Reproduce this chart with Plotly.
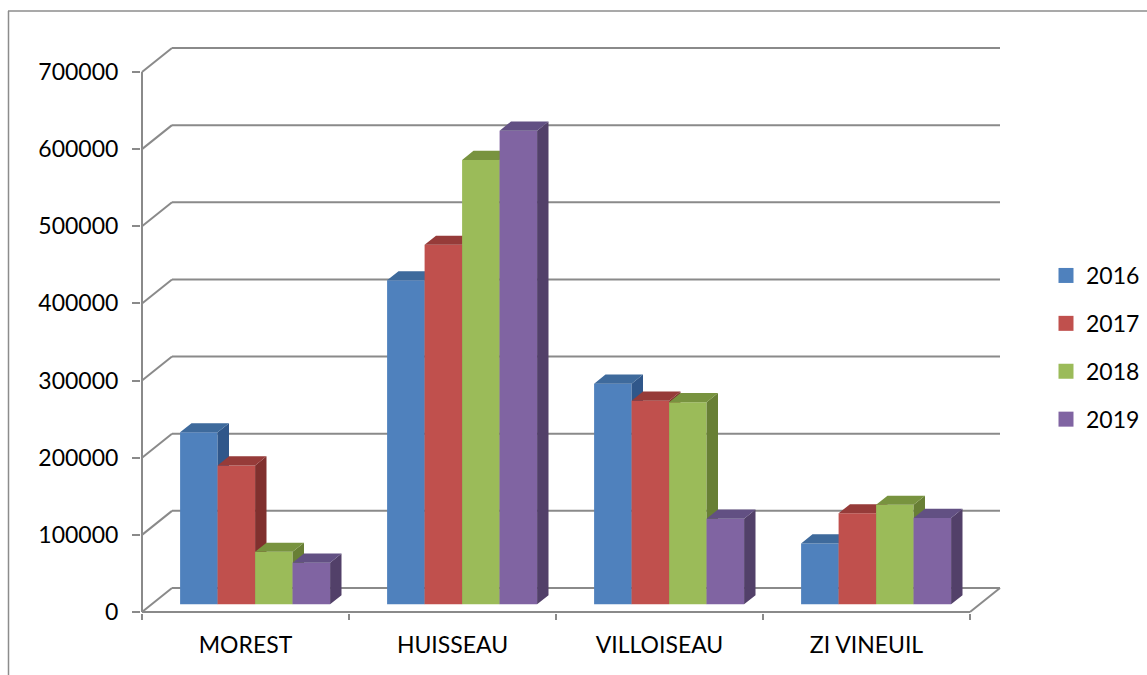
import plotly.graph_objects as go

# ---------------- data ----------------
categories = ["MOREST", "HUISSEAU", "VILLOISEAU", "ZI VINEUIL"]
years = ["2016", "2017", "2018", "2019"]
v2016 = [223000, 420000, 286000, 79000]
v2017 = [180000, 466000, 264000, 118000]
v2018 = [68000, 576000, 262000, 129000]
v2019 = [54000, 614000, 111000, 112000]
series = [v2016, v2017, v2018, v2019]
y_ticks = [0, 100000, 200000, 300000, 400000, 500000, 600000, 700000]

# ---------------- styles ----------------
front_cols = ["#4F81BD", "#C0504D", "#9BBB59", "#8064A2"]
top_cols = ["#3E6A9C", "#963B39", "#78933F", "#625083"]
side_cols = ["#30578A", "#80302E", "#687F35", "#524069"]
GRID = "#8A8A8A"
FONT = "Lato"

# ---------------- geometry (pixel layout) ----------------
W, H = 1147, 675
FX0, FX4 = 142, 970          # front floor edge, left / right
FY0, FY700 = 612, 72         # value 0 and 700000 on the front plane
UX = (FX4 - FX0) / 4.0       # px per category
UY = (FY0 - FY700) / 700000  # px per value unit
PL, PR, PT, PB = 141, 1003, 41, 613
xr = [(PL - FX0) / UX, (PR - FX0) / UX]
yr = [(FY0 - PB) / UY, (FY0 - PT) / UY]
DX = 30 / UX                 # depth offset of the floor
DY = 24 / UY
F1, F2 = 0.32, 0.70          # bar front / back depth fractions
BW = 37.5 / UX               # bar width
ncat = len(categories)

fig = go.Figure()

for j, vals in enumerate(series):
    k = "" if j == 0 else str(j + 1)
    xa, ya = "x" + k, "y" + k
    xs = [i + 0.5 + F1 * DX + (j - 1.5) * BW for i in range(ncat)]
    base = F1 * DY
    ddx = (F2 - F1) * DX
    ddy = (F2 - F1) * DY
    fig.add_trace(go.Bar(
        x=xs, y=vals, base=[base] * ncat, width=BW,
        marker=dict(color=front_cols[j], line=dict(width=0)),
        xaxis=xa, yaxis=ya, showlegend=False, hoverinfo="skip",
    ))
    tx, ty, sx, sy = [], [], [], []
    for xc, v in zip(xs, vals):
        x0, x1 = xc - BW / 2, xc + BW / 2
        top = base + v
        tx += [x0, x1, x1 + ddx, x0 + ddx, x0, None]
        ty += [top, top, top + ddy, top + ddy, top, None]
        sx += [x1, x1, x1 + ddx, x1 + ddx, x1, None]
        sy += [base, top, top + ddy, base + ddy, base, None]
    fig.add_trace(go.Scatter(x=sx, y=sy, mode="lines", fill="toself",
                             fillcolor=side_cols[j], line=dict(width=0),
                             xaxis=xa, yaxis=ya, showlegend=False, hoverinfo="skip"))
    fig.add_trace(go.Scatter(x=tx, y=ty, mode="lines", fill="toself",
                             fillcolor=top_cols[j], line=dict(width=0),
                             xaxis=xa, yaxis=ya, showlegend=False, hoverinfo="skip"))

# legend entries
for j, yr_name in enumerate(years):
    fig.add_trace(go.Scatter(
        x=[None], y=[None], mode="markers", name=yr_name,
        marker=dict(symbol="square", size=15, color=front_cols[j]),
        legendgroup=yr_name, showlegend=True,
    ))

# ---------------- walls / grid ----------------
shapes = []
for v in y_ticks:
    shapes.append(dict(type="line", xref="x", yref="y", x0=0, y0=v, x1=DX, y1=v + DY,
                       line=dict(color=GRID, width=2), layer="below"))
    shapes.append(dict(type="line", xref="x", yref="y", x0=DX, y0=v + DY, x1=ncat + DX, y1=v + DY,
                       line=dict(color=GRID, width=2), layer="below"))
# floor front and right edges
shapes.append(dict(type="line", xref="x", yref="y", x0=0, y0=0, x1=ncat, y1=0,
                   line=dict(color=GRID, width=2), layer="below"))
shapes.append(dict(type="line", xref="x", yref="y", x0=ncat, y0=0, x1=ncat + DX, y1=DY,
                   line=dict(color=GRID, width=2), layer="below"))
# left value axis line
shapes.append(dict(type="line", xref="x", yref="y", x0=0, y0=0, x1=0, y1=y_ticks[-1],
                   line=dict(color=GRID, width=2), layer="below"))
# outer chart border (left and top)
pw, ph = PR - PL, PB - PT
def px2paper_x(px):
    return (px - PL) / pw
def px2paper_y(py):
    return (PB - py) / ph
shapes.append(dict(type="line", xref="paper", yref="paper",
                   x0=px2paper_x(8.5), y0=px2paper_y(11), x1=px2paper_x(8.5), y1=px2paper_y(680),
                   line=dict(color="#8C8C8C", width=1.5)))
shapes.append(dict(type="line", xref="paper", yref="paper",
                   x0=px2paper_x(8), y0=px2paper_y(11), x1=px2paper_x(1150), y1=px2paper_y(11),
                   line=dict(color="#8C8C8C", width=1.5)))

axis_font = dict(family=FONT, size=23, color="#000000")
layout = dict(
    width=W, height=H,
    margin=dict(l=PL, r=W - PR, t=PT, b=H - PB, pad=0),
    paper_bgcolor="white", plot_bgcolor="white",
    barmode="overlay",
    showlegend=True,
    shapes=shapes,
    font=dict(family=FONT, size=23, color="#000000"),
    xaxis=dict(range=xr, showgrid=False, zeroline=False, showline=False,
               tickmode="array", tickvals=[i + 0.5 for i in range(ncat)], ticktext=categories,
               ticks="", tickfont=axis_font, ticklabelstandoff=16,
               minor=dict(tickmode="array", tickvals=list(range(ncat + 1)), ticks="outside",
                          ticklen=6, tickwidth=2, tickcolor=GRID, showgrid=False),
               fixedrange=True),
    yaxis=dict(range=yr, showgrid=False, zeroline=False, showline=False,
               tickmode="array", tickvals=y_ticks, ticktext=[str(v) for v in y_ticks],
               ticks="outside", ticklen=8, tickwidth=2, tickcolor=GRID,
               tickfont=axis_font, ticklabelstandoff=9, fixedrange=True),
    legend=dict(xref="container", yref="container", x=1046 / W, y=1 - 254 / H,
                xanchor="left", yanchor="top", font=dict(family=FONT, size=23),
                tracegroupgap=15, bgcolor="rgba(0,0,0,0)"),
)
for j in range(1, 4):
    k = str(j + 1)
    layout["xaxis" + k] = dict(overlaying="x", range=xr, visible=False, fixedrange=True)
    layout["yaxis" + k] = dict(overlaying="y", range=yr, visible=False, fixedrange=True)

fig.update_layout(**layout)
fig.write_html("out.html", config={"displayModeBar": False},
               post_script="document.body.style.margin='0';document.body.style.overflow='hidden';")
